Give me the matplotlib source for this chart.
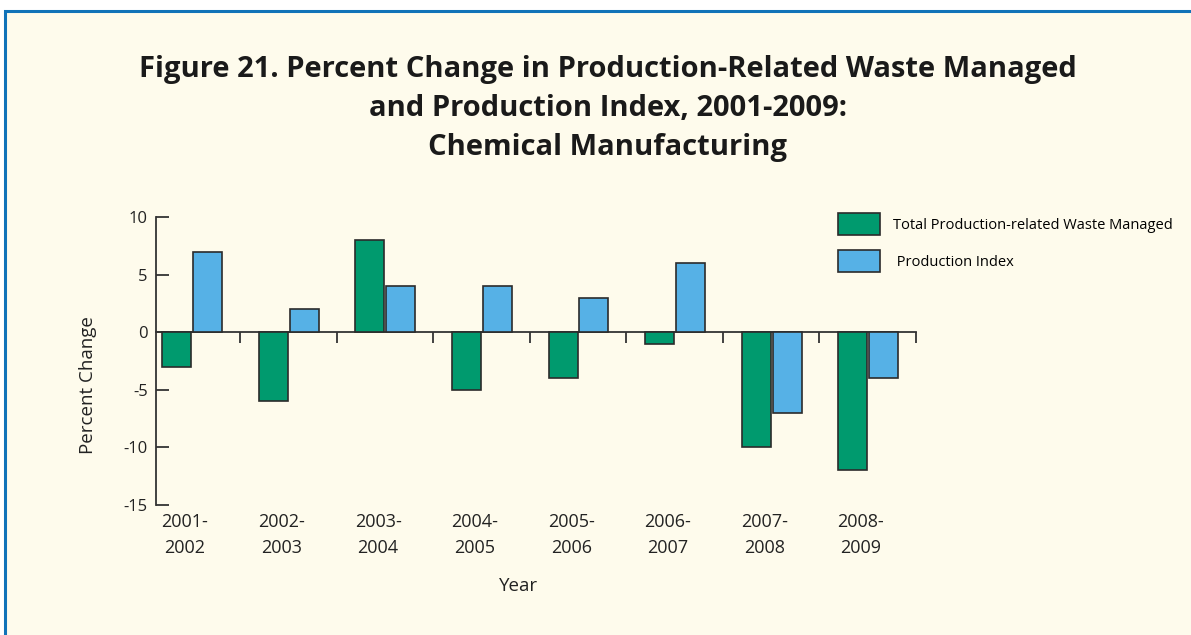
import matplotlib
matplotlib.use("Agg")
import matplotlib.pyplot as plt
from matplotlib.patches import Patch, Rectangle
import matplotlib.transforms as mtransforms
import numpy as np

periods = ["2001-\n2002", "2002-\n2003", "2003-\n2004", "2004-\n2005",
           "2005-\n2006", "2006-\n2007", "2007-\n2008", "2008-\n2009"]
waste_managed = [-3, -6, 8, -5, -4, -1, -10, -12]
production_index = [7, 2, 4, 4, 3, 6, -7, -4]
y_ticks = [10, 5, 0, -5, -10, -15]

GREEN = "#009a6e"
BLUE = "#56b1e6"
BG = "#fefbec"
EDGE = "#2b2b2b"
FONT = "Open Sans"

plt.rcParams["font.family"] = [FONT, "DejaVu Sans"]

fig = plt.figure(figsize=(11.91, 6.35), dpi=100, facecolor="white")
# cream panel with blue frame line on top and left
fig.add_artist(Rectangle((5 / 1191, -0.1), 1.2, 1 - 11 / 635 + 0.1,
                         transform=fig.transFigure, facecolor=BG,
                         edgecolor="#1173b8", linewidth=2.2, zorder=0))

ax = fig.add_axes([156 / 1191, 1 - 505 / 635, (916 - 156) / 1191, (505 - 217) / 635])
ax.set_facecolor("none")

x = np.arange(len(periods))
w = 0.30
ax.bar(x - 0.155, waste_managed, w, color=GREEN, edgecolor=EDGE, linewidth=1.2, zorder=3)
ax.bar(x + 0.165, production_index, w, color=BLUE, edgecolor=EDGE, linewidth=1.2, zorder=3)

ax.set_xlim(-0.37, len(periods) - 0.5)
ax.set_ylim(-15, 10)

for s in ["top", "right"]:
    ax.spines[s].set_visible(False)
ax.spines["bottom"].set_position(("data", 0))
ax.spines["left"].set_linewidth(1.3)
ax.spines["bottom"].set_linewidth(1.3)
ax.spines["left"].set_color("#333333")
ax.spines["bottom"].set_color("#333333")

ax.set_yticks(y_ticks)
ax.set_yticklabels([str(v) for v in y_ticks], fontsize=12, color="#222222")
ax.tick_params(axis="y", direction="in", length=9, width=1.3, color="#333333", pad=6)

ax.set_xticks(x + 0.5)
ax.set_xticklabels([])
ax.tick_params(axis="x", direction="out", length=8, width=1.3, color="#333333")

trans = mtransforms.blended_transform_factory(ax.transData, ax.transAxes)
for xi, lab in zip(x, periods):
    ax.text(xi - 0.07, -0.028, lab, transform=trans, ha="center", va="top",
            fontsize=13, color="#222222", linespacing=1.6)

fig.text(519 / 1191, 1 - 586 / 635, "Year", ha="center", va="center",
         fontsize=13.5, color="#222222")
fig.text(88 / 1191, 1 - 385 / 635, "Percent Change", ha="center", va="center",
         rotation=90, fontsize=13.5, color="#222222")

fig.text(608 / 1191, 1 - 55 / 635,
         "Figure 21. Percent Change in Production-Related Waste Managed\n"
         "and Production Index, 2001-2009:\nChemical Manufacturing",
         ha="center", va="top", fontsize=21, fontweight="bold",
         color="#1a1a1a", linespacing=1.45)

handles = [Patch(facecolor=GREEN, edgecolor=EDGE, linewidth=1.2),
           Patch(facecolor=BLUE, edgecolor=EDGE, linewidth=1.2)]
fig.legend(handles, ["Total Production-related Waste Managed", " Production Index"],
           loc="upper left", bbox_to_anchor=(832 / 1191, 1 - 207 / 635),
           frameon=False, fontsize=10.5, handlelength=2.9, handleheight=2.0,
           handletextpad=0.9, labelspacing=1.0, borderaxespad=0)

fig.savefig("out.png", dpi=100, facecolor="white")
